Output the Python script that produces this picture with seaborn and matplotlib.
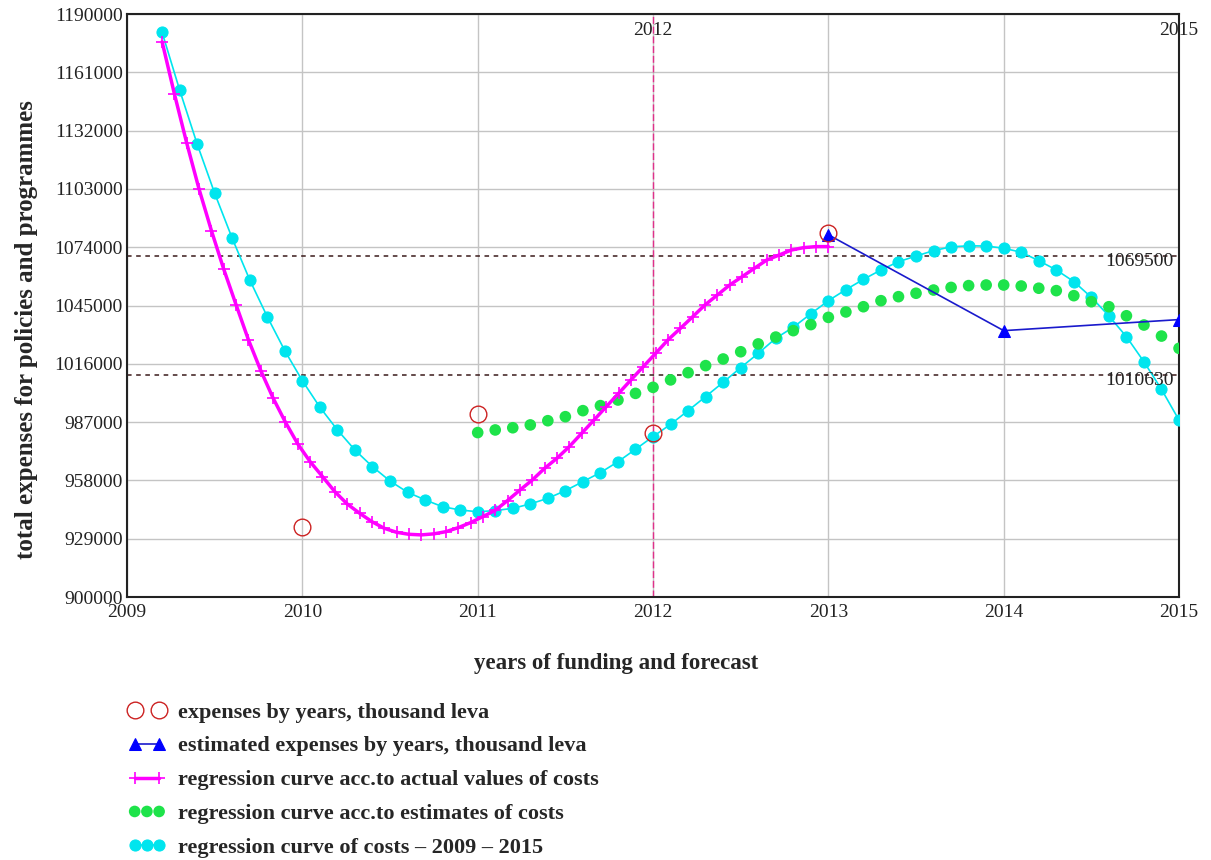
import numpy as np
import seaborn as sns
import matplotlib.pyplot as plt
from matplotlib.legend_handler import HandlerLine2D

# observed and estimated expenses (thousand leva)
years_actual = [2010, 2011, 2012, 2013]
expenses_actual = [935000, 991100, 981400, 1081200]
years_est = [2013, 2014, 2015]
expenses_est = [1080200, 1032500, 1038000]

# regression curve from actual values
reg_actual_x = np.linspace(2009.2, 2013.0, 55)
reg_actual_y = [1176200, 1150200, 1125700, 1102800, 1082200, 1063000, 1045300, 1027900,
                1012600, 998900, 986900, 976100, 967300, 959900, 952400, 946300, 941700,
                937500, 934200, 932200, 931200, 930900, 931400, 932500, 934500, 937000,
                940000, 943100, 948000, 953200, 958200, 964000, 969000, 974800, 981400,
                988000, 994700, 1001300, 1008000, 1014600, 1021200, 1027900, 1033600,
                1039400, 1045300, 1050200, 1055200, 1059300, 1063500, 1067600, 1070100,
                1072600, 1073800, 1074300, 1074300]

# regression curve from estimates
reg_est_x = np.round(np.arange(2011.0, 2015.01, 0.1), 1)
reg_est_y = [981800, 983100, 984200, 985600, 987700, 989700, 992700, 995200, 998000, 1001300,
             1004300, 1008000, 1011600, 1015100, 1018400, 1022000, 1025900, 1029300, 1032500, 1035500,
             1039100, 1041800, 1044400, 1047400, 1049400, 1051100, 1052700, 1054000, 1054900, 1055200,
             1055200, 1054700, 1053600, 1052400, 1049900, 1046900, 1044400, 1039900, 1035300, 1029800,
             1023700]

# regression curve 2009 - 2015
reg_all_x = np.round(np.arange(2009.2, 2015.01, 0.1), 1)
reg_all_y = [1180900, 1152200, 1125300, 1100800, 1078400, 1057700, 1039400, 1022500,
             1007600, 994400, 983100, 973100, 964800, 957700, 952100, 948300, 944900, 943300,
             942400, 943000, 944100, 946300, 949100, 952900, 957400, 961900, 967300, 973500,
             979800, 985900, 992700, 999700, 1006800, 1014100, 1021200, 1028700, 1034200, 1040900,
             1047400, 1052900, 1058000, 1062700, 1066800, 1069600, 1072300, 1074200, 1074700, 1074600,
             1073500, 1071500, 1067300, 1062700, 1056900, 1049100, 1039800, 1029500, 1017000, 1003300,
             988000]

upper_level = 1069500
lower_level = 1010630
x_ticks = [2009, 2010, 2011, 2012, 2013, 2014, 2015]
y_ticks = list(range(900000, 1190001, 29000))
marked_years = [2012, 2015]

sns.set_theme(style="whitegrid")
plt.rcParams['font.family'] = ['Liberation Serif', 'DejaVu Serif']

fig = plt.figure(figsize=(12.11, 8.6), dpi=100)
ax = fig.add_axes([0.1049, 0.3058, 0.8687, 0.6779])

for y0, txt in [(upper_level, "1069500"), (lower_level, "1010630")]:
    ax.axhline(y0, color="#3a1a1a", lw=1.1, ls=(0, (3, 3)), zorder=2)
    ax.text(2014.97, y0 - 2800, txt, ha="right", va="center", fontsize=14, color="#222222", zorder=6)

for yr in marked_years:
    ax.axvline(yr, color="#e0308a", lw=1.0, ls=(0, (5, 2)), zorder=2)
    ax.text(yr, 1186000, str(yr), ha="center", va="top", fontsize=14, color="#222222", zorder=6)

sns.lineplot(x=reg_all_x, y=reg_all_y, ax=ax, color="#00e5ee", lw=1.2, marker="o",
             markersize=8, markeredgecolor="#00e5ee", markerfacecolor="#00e5ee",
             label="regression curve of costs \u2013 2009 \u2013 2015", zorder=3)
sns.scatterplot(x=reg_est_x, y=reg_est_y, ax=ax, color="#1ee34a", s=70, edgecolor="none",
                label="regression curve acc.to estimates of costs", zorder=4)
sns.lineplot(x=reg_actual_x, y=reg_actual_y, ax=ax, color="#ff00ff", lw=2.5, marker="+",
             markersize=9, markeredgecolor="#ff00ff", markeredgewidth=1.2,
             label="regression curve acc.to actual values of costs", zorder=4)
sns.lineplot(x=years_est, y=expenses_est, ax=ax, color="#1a1acc", lw=1.2, marker="^",
             markersize=9, markeredgecolor="#0000ff", markerfacecolor="#0000ff",
             label="estimated expenses by years, thousand leva", zorder=5)
sns.lineplot(x=years_actual, y=expenses_actual, ax=ax, linestyle="", marker="o",
             markersize=12, markerfacecolor="none", markeredgecolor="#cc2222",
             markeredgewidth=1.0, label="expenses by years, thousand leva", zorder=5)

ax.set_xlim(2009, 2015)
ax.set_ylim(900000, 1190000)
ax.set_xticks(x_ticks)
ax.set_yticks(y_ticks)
ax.set_xticklabels([str(t) for t in x_ticks])
ax.set_yticklabels([str(t) for t in y_ticks])
ax.tick_params(axis="both", length=0, labelsize=14, colors="#222222", pad=3)
ax.tick_params(axis="x", pad=5)
ax.grid(True, color="#c4c4c4", lw=1.0)
for s in ax.spines.values():
    s.set_color("#222222")
    s.set_linewidth(1.5)

ax.set_xlabel("years of funding and forecast", fontsize=16.5, fontweight="bold")
ax.set_ylabel("total expenses for policies and programmes", fontsize=18, fontweight="bold")
ax.xaxis.set_label_coords(0.465, -0.096)
ax.yaxis.set_label_coords(-0.085, 0.458)

handles, labels = ax.get_legend_handles_labels()
ax.legend_.remove()
order = [4, 3, 2, 1, 0]
handles = [handles[i] for i in order]
labels = [labels[i] for i in order]
hmap = {handles[0]: HandlerLine2D(numpoints=2), handles[1]: HandlerLine2D(numpoints=2),
        handles[2]: HandlerLine2D(numpoints=2), handles[4]: HandlerLine2D(numpoints=3)}
fig.legend(handles, labels, loc="upper left", bbox_to_anchor=(0.1057, 0.1837), frameon=False,
           prop={"weight": "bold", "size": 16}, handlelength=1.7, handletextpad=0.55,
           labelspacing=0.6, borderpad=0, borderaxespad=0, handler_map=hmap,
           scatterpoints=3, scatteryoffsets=[0.5])

fig.savefig("out.png", dpi=100)
